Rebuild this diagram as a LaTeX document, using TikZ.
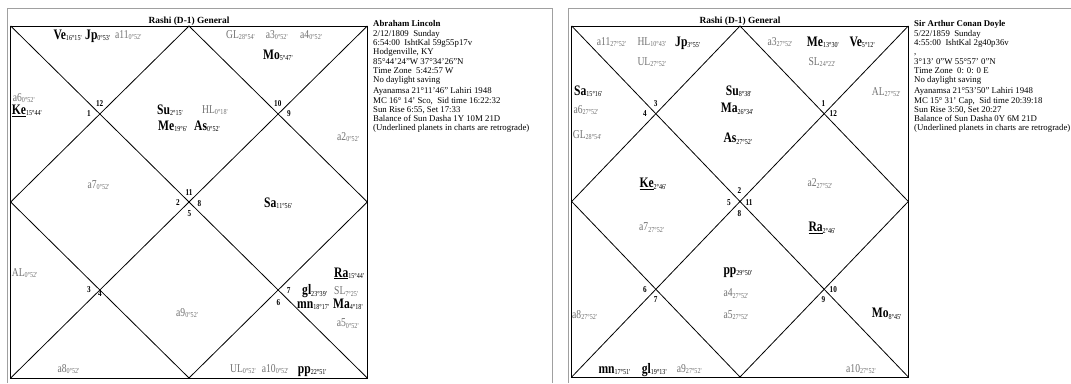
\documentclass[tikz,border=0pt]{standalone}
\usepackage{fontspec}
\setmainfont{Liberation Serif}
\newfontfamily\chartfont[FakeStretch=0.8]{Liberation Serif}
\definecolor{auxgray}{RGB}{112,112,112}
\definecolor{framegray}{RGB}{160,160,160}
\newcommand{\subdeg}[1]{\raisebox{-1.6pt}{\mdseries\fontsize{7.6}{7.6}\selectfont #1}}
\newcommand{\pl}[2]{#1\subdeg{#2}}

\begin{document}
\begin{tikzpicture}[
  x=1pt, y=-1pt,
  chartline/.style={line width=0.8pt},
  frame/.style={draw=framegray, line width=0.9pt},
  planet/.style={anchor=base west, inner sep=0pt, font=\chartfont\bfseries\fontsize{14.5}{14.5}\selectfont},
  aux/.style={planet, text=auxgray, font=\chartfont\fontsize{12}{12}\selectfont},
  house/.style={inner sep=0pt, font=\chartfont\bfseries\fontsize{9}{9}\selectfont},
  title/.style={anchor=base, inner sep=0pt, font=\bfseries\fontsize{9.4}{9.4}\selectfont},
  info/.style={anchor=north west, inner sep=0pt, align=left, font=\fontsize{8.8}{9.3}\selectfont}
  ]
  \useasboundingbox (0,0) rectangle (1071,383);

  % panel frames
  \draw[frame] (7.5,383) -- (7.5,8) -- (552,8) -- (552,383);
  \draw[frame] (568,383) -- (568,8) -- (1071,8);

  % left chart
  \coordinate (lNW) at (10.7,26);
  \coordinate (lNE) at (367.3,26);
  \coordinate (lSE) at (367.3,378);
  \coordinate (lSW) at (10.7,378);
  \coordinate (lN) at (189,26);
  \coordinate (lE) at (367.3,202);
  \coordinate (lS) at (189,378);
  \coordinate (lW) at (10.7,202);
  \draw[chartline] (lNW) rectangle (lSE);
  \draw[chartline] (lNW) -- (lSE) (lNE) -- (lSW);
  \draw[chartline] (lN) -- (lE) -- (lS) -- (lW) -- cycle;

  \node[title] (lTitle) at (189,23.5) {Rashi (D-1) General};

  \foreach \n/\x/\y in {12/99.7/103.7, 1/89/113.3, 10/277.8/103.7, 9/289/113.3,
      11/189/192.3, 2/178/202.3, 8/199.3/203.3, 5/189.3/213.3,
      3/89/289.3, 4/100/294, 6/278.3/302.7, 7/288.7/290.7}
    \node[house] (lh\n) at (\x,\y) {\n};

  \foreach \nm/\x/\y/\d in {Ve/53.3/39.3/16°15', Jp/85/39.3/0°53', Mo/263/59/5°47',
      Su/157/114.3/2°15', Me/158/130/19°6', As/194/130/0°52', Sa/264/207.3/11°56',
      gl/302/294.8/23°39', mn/297/308.2/18°17', Ma/333/308.2/4°18', pp/297.7/373/22°51'}
    \node[planet] (l\nm) at (\x,\y) {\pl{\nm}{\d}};
  \node[planet] (lKe) at (11.7,114.3) {\pl{\underline{Ke}}{15°44'}};
  \node[planet] (lRa) at (334,277) {\pl{\underline{Ra}}{15°44'}};

  \foreach \nm/\x/\y/\d in {a11/115/38.3/0°52', GL/226/38.3/28°54', a3/265.7/38.3/0°52',
      a4/300/38.3/0°52', a6/12.7/101/0°52', HL/202/113.3/0°18', a2/337/140/0°52',
      a7/87.3/188.3/0°52', AL/11.7/276.3/0°52', SL/334/294.5/7°25', a5/336.7/326.5/0°52',
      a9/176/316.3/0°52', a8/57.3/372.3/0°52', UL/230/372/0°52', a10/261.7/372/0°52'}
    \node[aux] (l\nm) at (\x,\y) {\pl{\nm}{\d}};

  \node[info] (lInfo) at (373,20.6) {\textbf{Abraham Lincoln}\\
    2/12/1809\ \ Sunday\\
    6:54:00\ \ IshtKal 59g55p17v\\
    Hodgenville, KY\\
    85°44'24"W 37°34'26"N\\
    Time Zone\ \ 5:42:57 W\\
    No daylight saving\\[1.7pt]
    Ayanamsa 21°11'46" Lahiri 1948\\
    MC 16° 14' Sco,\ \ Sid time 16:22:32\\
    Sun Rise 6:55, Set 17:33\\
    Balance of Sun Dasha 1Y 10M 21D\\
    (Underlined planets in charts are retrograde)};

  % right chart
  \coordinate (rNW) at (571.7,26);
  \coordinate (rNE) at (908.3,26);
  \coordinate (rSE) at (908.3,377);
  \coordinate (rSW) at (571.7,377);
  \coordinate (rN) at (740,26);
  \coordinate (rE) at (908.3,201.5);
  \coordinate (rS) at (740,377);
  \coordinate (rW) at (571.7,201.5);
  \draw[chartline] (rNW) rectangle (rSE);
  \draw[chartline] (rNW) -- (rSE) (rNE) -- (rSW);
  \draw[chartline] (rN) -- (rE) -- (rS) -- (rW) -- cycle;

  \node[title] (rTitle) at (740,23.5) {Rashi (D-1) General};

  \foreach \n/\x/\y in {3/655.7/103.3, 4/645/113.3, 1/823.3/103.3, 12/833.3/113.3,
      2/739.3/191, 5/729/202.3, 11/749/202.3, 8/739.3/213.3,
      6/645/290, 7/655.7/299.3, 10/833.3/290, 9/823.3/300}
    \node[house] (rh\n) at (\x,\y) {\n};

  \foreach \nm/\x/\y/\d in {Jp/675/46/3°55', Me/806.7/46/13°30', Ve/849.3/46/5°12',
      Sa/574/95/15°16', Su/725.7/95/8°38', Ma/720.7/112.6/26°34', As/723.3/142.6/27°52',
      pp/723.3/274/29°50', Mo/871.7/317.6/8°45', mn/598.3/373/17°51', gl/641.7/373/19°13'}
    \node[planet] (r\nm) at (\x,\y) {\pl{\nm}{\d}};
  \node[planet] (rKe) at (639.3,187.6) {\pl{\underline{Ke}}{2°46'}};
  \node[planet] (rRa) at (808.3,231.5) {\pl{\underline{Ra}}{2°46'}};

  \foreach \nm/\x/\y/\d in {a11/596.7/45/27°52', HL/637.3/45/10°43', UL/637.3/65/27°52',
      a3/767.3/45/27°52', SL/808.3/65/24°22', a6/573.3/113.3/27°52', AL/871.7/95/27°52',
      GL/572.7/138.3/28°54', a2/807.3/186.6/27°52', a7/639/230.6/27°52',
      a4/723.3/296.6/27°52', a5/723.3/318.3/27°52', a8/572/318.3/27°52',
      a9/676.7/372/27°52', a10/846/372/27°52'}
    \node[aux] (r\nm) at (\x,\y) {\pl{\nm}{\d}};

  \node[info] (rInfo) at (914,20.6) {\textbf{Sir Arthur Conan Doyle}\\
    5/22/1859\ \ Sunday\\
    4:55:00\ \ IshtKal 2g40p36v\\
    ,\\
    3°13' 0"W 55°57' 0"N\\
    Time Zone\ \ 0: 0: 0 E\\
    No daylight saving\\[1.7pt]
    Ayanamsa 21°53'50" Lahiri 1948\\
    MC 15° 31' Cap,\ \ Sid time 20:39:18\\
    Sun Rise 3:50, Set 20:27\\
    Balance of Sun Dasha 0Y 6M 21D\\
    (Underlined planets in charts are retrograde)};
\end{tikzpicture}
\end{document}
